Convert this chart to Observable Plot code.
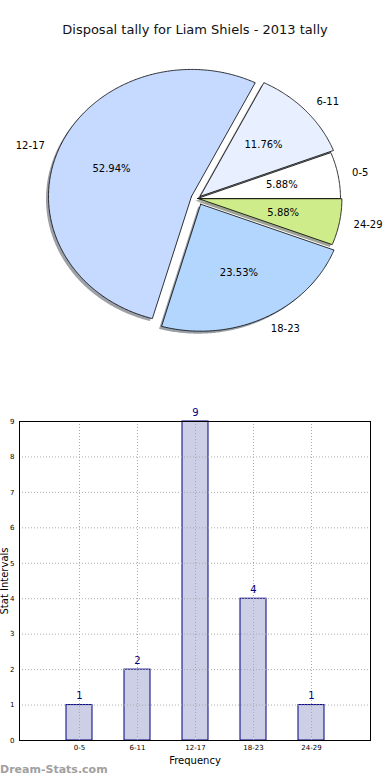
<!DOCTYPE html>
<html><head><meta charset="utf-8">
<script src="https://cdn.jsdelivr.net/npm/d3@7"></script>
<script src="https://cdn.jsdelivr.net/npm/@observablehq/plot@0.6"></script>
<style>
body{margin:0;background:#fff;font-family:"DejaVu Sans",sans-serif;}
#wrap{position:relative;width:390px;height:780px;overflow:hidden;background:#fff;}
#title{position:absolute;left:0;top:21px;width:390px;text-align:center;font-size:13px;line-height:18px;color:#111;}
#pie{position:absolute;left:0;top:0;}
#bar{position:absolute;left:0;top:400px;}
#wm{position:absolute;left:0;top:763px;font-size:11px;font-weight:bold;color:#a0a0a0;font-family:"DejaVu Sans",sans-serif;}
svg{font-family:"DejaVu Sans",sans-serif;}
</style></head>
<body><div id="wrap"><div id="pie"></div><div id="title">Disposal tally for Liam Shiels - 2013 tally</div><div id="bar"></div><div id="wm">Dream-Stats.com</div></div>
<script>
const categories = ["0-5", "6-11", "12-17", "18-23", "24-29"];
const counts = [1, 2, 9, 4, 1];
const sliceColors = ["#ffffff", "#e8f0ff", "#c6d9ff", "#b3d6ff", "#cfec8a"];
const explode = [0, 0.025, 0.045, 0.05, 0.01];
const yTicks = [0, 1, 2, 3, 4, 5, 6, 7, 8, 9];

const total = d3.sum(counts);
let cum = 0;
const slices = categories.map((c, i) => {
  const a0 = cum / total * 2 * Math.PI;
  cum += counts[i];
  const a1 = cum / total * 2 * Math.PI;
  const mid = (a0 + a1) / 2;
  return {c, i, a0, a1, mid, ox: explode[i] * Math.cos(mid), oy: explode[i] * Math.sin(mid), pct: counts[i] / total * 100};
});
function outline(s) {
  const n = Math.max(4, Math.ceil((s.a1 - s.a0) / 0.01));
  const pts = [{x: s.ox, y: s.oy}];
  for (let k = 0; k <= n; k++) {
    const t = s.a0 + (s.a1 - s.a0) * k / n;
    pts.push({x: s.ox + Math.cos(t), y: s.oy + Math.sin(t)});
  }
  pts.push({x: s.ox, y: s.oy});
  return pts;
}
const shadowColor = (c) => { const r = d3.rgb(c); return d3.rgb(r.r * 0.3, r.g * 0.3, r.b * 0.3).formatHex(); };

const pieMarks = [];
slices.forEach(s => pieMarks.push(Plot.line(outline(s), {x: "x", y: "y", fill: shadowColor(sliceColors[s.i]), fillOpacity: 0.5, stroke: "none", dx: -2.5, dy: 2.5})));
slices.forEach(s => pieMarks.push(Plot.line(outline(s), {x: "x", y: "y", fill: sliceColors[s.i], stroke: "black", strokeWidth: 0.8})));
pieMarks.push(Plot.text(slices.filter(s => Math.cos(s.mid) >= 0), {x: s => s.ox + 1.1 * Math.cos(s.mid), y: s => s.oy + 1.1 * Math.sin(s.mid), text: "c", textAnchor: "start", fontSize: 10, fill: "black"}));
pieMarks.push(Plot.text(slices.filter(s => Math.cos(s.mid) < 0), {x: s => s.ox + 1.1 * Math.cos(s.mid), y: s => s.oy + 1.1 * Math.sin(s.mid), text: "c", textAnchor: "end", fontSize: 10, fill: "black"}));
pieMarks.push(Plot.text(slices, {x: s => s.ox + 0.6 * Math.cos(s.mid), y: s => s.oy + 0.6 * Math.sin(s.mid), text: s => s.pct.toFixed(2) + "%", fontSize: 10, fill: "black"}));

const pie = Plot.plot({
  width: 390, height: 380, margin: 0,
  x: {domain: [-1, 1], range: [54, 340], axis: null},
  y: {domain: [-1, 1], range: [325, 71], axis: null},
  marks: pieMarks
});
document.getElementById("pie").appendChild(pie);

const barData = categories.map((c, i) => ({cat: c, n: counts[i]}));
const bar = Plot.plot({
  width: 390, height: 380,
  marginLeft: 19, marginRight: 20, marginTop: 21, marginBottom: 40,
  x: {domain: categories, paddingInner: 0.556, paddingOuter: 0.778, align: 0.5, axis: null},
  y: {domain: [0, 9], axis: null},
  marks: [
    Plot.barY(barData, {x: "cat", y: "n", fill: "#cdcfe6", stroke: "#000080", strokeWidth: 1}),
    Plot.gridX(categories, {stroke: "#aaaaaa", strokeOpacity: 1, strokeDasharray: "1,2"}),
    Plot.gridY(yTicks, {stroke: "#aaaaaa", strokeOpacity: 1, strokeDasharray: "1,2"}),
    Plot.frame({stroke: "black", strokeWidth: 1}),
    Plot.axisY(yTicks, {tickSize: 0, tickPadding: 5, fontSize: 7, label: null}),
    Plot.axisX(categories, {tickSize: 0, tickPadding: 5, fontSize: 7, label: null}),
    Plot.text(barData, {x: "cat", y: "n", text: d => String(d.n), dy: -9, fill: "#000080", fontSize: 10}),
    Plot.text(["Stat Intervals"], {frameAnchor: "left", textAnchor: "middle", lineAnchor: "middle", rotate: -90, dx: -15, fontSize: 10, fill: "black"}),
    Plot.text(["Frequency"], {frameAnchor: "bottom", textAnchor: "middle", lineAnchor: "middle", dy: 20, fontSize: 10, fill: "black"})
  ]
});
document.getElementById("bar").appendChild(bar);
</script>
</body></html>
